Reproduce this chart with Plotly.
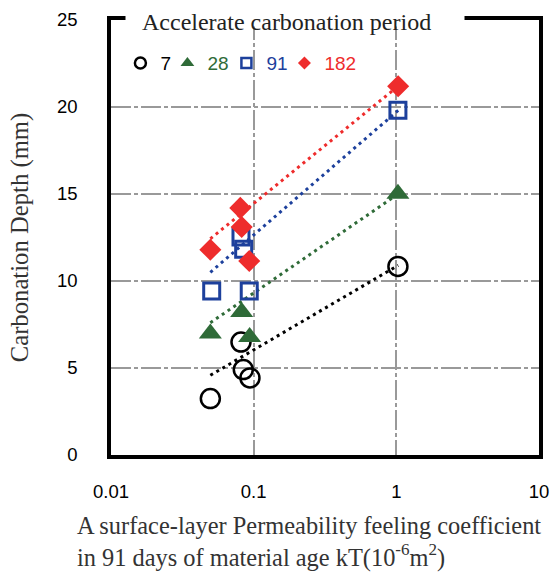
import plotly.graph_objects as go

# ---- data ----
kt_7 = [0.0497, 0.0815, 0.0846, 0.0942, 1.026]
depth_7 = [3.24, 6.49, 4.91, 4.43, 10.84]
kt_28 = [0.0497, 0.0824, 0.0937, 1.026]
depth_28 = [6.98, 8.22, 6.78, 15.02]
kt_91 = [0.0508, 0.0815, 0.0851, 0.0931, 1.026]
depth_91 = [9.43, 12.53, 11.82, 9.43, 19.81]
kt_182 = [0.0497, 0.0806, 0.0824, 0.0931, 1.03]
depth_182 = [11.8, 14.2, 13.1, 11.15, 21.19]

trend_kt = [0.0497, 1.03]
trend_7 = [4.58, 10.9]
trend_28 = [7.6, 15.0]
trend_91 = [10.5, 19.8]
trend_182 = [12.43, 21.2]

series_names = ["7", "28", "91", "182"]
x_tick_vals = [0.01, 0.1, 1, 10]
x_tick_text = ["0.01", "0.1", "1", "10"]
y_tick_vals = [0, 5, 10, 15, 20, 25]

BLACK = "#000000"
GREEN = "#2f6b38"
BLUE = "#1d409c"
RED = "#ee2c2c"

fig = go.Figure()

# trend lines (dotted)
for ty, col in [(trend_7, BLACK), (trend_28, GREEN), (trend_91, BLUE), (trend_182, RED)]:
    fig.add_trace(go.Scatter(x=trend_kt, y=ty, mode="lines", showlegend=False,
                             line=dict(color=col, width=3, dash="3px,4px")))

# data markers
fig.add_trace(go.Scatter(x=kt_7, y=depth_7, mode="markers", showlegend=False,
                         marker=dict(symbol="circle-open", size=19, color=BLACK,
                                     line=dict(width=2.5, color=BLACK))))
fig.add_trace(go.Scatter(x=kt_28, y=depth_28, mode="markers", showlegend=False,
                         marker=dict(symbol="triangle-up", size=20, color=GREEN,
                                     line=dict(width=0))))
fig.add_trace(go.Scatter(x=kt_91, y=depth_91, mode="markers", showlegend=False,
                         marker=dict(symbol="square-open", size=16, color=BLUE,
                                     line=dict(width=3, color=BLUE))))
fig.add_trace(go.Scatter(x=kt_182, y=depth_182, mode="markers", showlegend=False,
                         marker=dict(symbol="diamond", size=17, color=RED,
                                     line=dict(width=0))))

# legend entries
legend_specs = [
    (series_names[0], BLACK, 2, dict(symbol="circle-open", size=11, color=BLACK, line=dict(width=2.5, color=BLACK))),
    (series_names[1], GREEN, 14, dict(symbol="triangle-up", size=12, color=GREEN, line=dict(width=0))),
    (series_names[2], BLUE, 13, dict(symbol="square-open", size=10, color=BLUE, line=dict(width=2.5, color=BLUE))),
    (series_names[3], RED, 45, dict(symbol="diamond", size=10, color=RED, line=dict(width=0))),
]
for name, col, lw, mk in legend_specs:
    fig.add_trace(go.Scatter(x=[None], y=[None], mode="markers", marker=mk, legendwidth=lw,
                             name=f"<span style='color:{col}'>{name}</span>"))

common = dict(showgrid=True, gridcolor="#999999", gridwidth=2, griddash="20px,3px,4px,3px",
              showline=True, linecolor="black", linewidth=3.5, mirror=True,
              zeroline=False, ticks="", automargin=False,
              tickfont=dict(family="Liberation Sans", size=18.5, color="black"))

fig.update_xaxes(type="log", range=[-2, 1], tickvals=x_tick_vals, ticktext=x_tick_text,
                 ticklabelstandoff=17, **common)
fig.update_yaxes(range=[0, 25], tickvals=y_tick_vals, ticklabelstandoff=26,
                 title=dict(text="Carbonation Depth (mm)", standoff=22,
                            font=dict(family="Liberation Serif", size=24.7, color="#333333")),
                 **common)

fig.update_layout(
    width=550, height=572, autosize=False,
    margin=dict(l=111, r=11, t=20, b=117),
    plot_bgcolor="white", paper_bgcolor="white",
    legend=dict(orientation="h", x=0.022, y=0.901, xanchor="left", yanchor="middle",
                bgcolor="rgba(0,0,0,0)", itemwidth=30,
                font=dict(family="Liberation Sans", size=19)),
    annotations=[
        dict(text=" ", xref="paper", yref="paper", x=0.43, y=1.0, xanchor="center", yanchor="middle",
             showarrow=False, width=338, height=12, bgcolor="white", borderpad=0,
             font=dict(size=8)),
        dict(text="Accelerate carbonation period", xref="paper", yref="paper",
             x=0.409, y=0.9954, xanchor="center", yanchor="middle", showarrow=False,
             font=dict(family="Liberation Serif", size=24, color="#222222")),
        dict(text="A surface-layer Permeability feeling coefficient<br>in 91 days of material age kT(10<sup>-6</sup>m<sup>2</sup>)",
             xref="paper", yref="paper", x=-0.085, y=-0.127, xanchor="left", yanchor="top",
             align="left", showarrow=False,
             font=dict(family="Liberation Serif", size=24.4, color="#333333")),
    ],
)

fig.write_html("out.html", config={"displayModeBar": False},
               post_script="document.body.style.margin='0';document.body.style.overflow='hidden';")
